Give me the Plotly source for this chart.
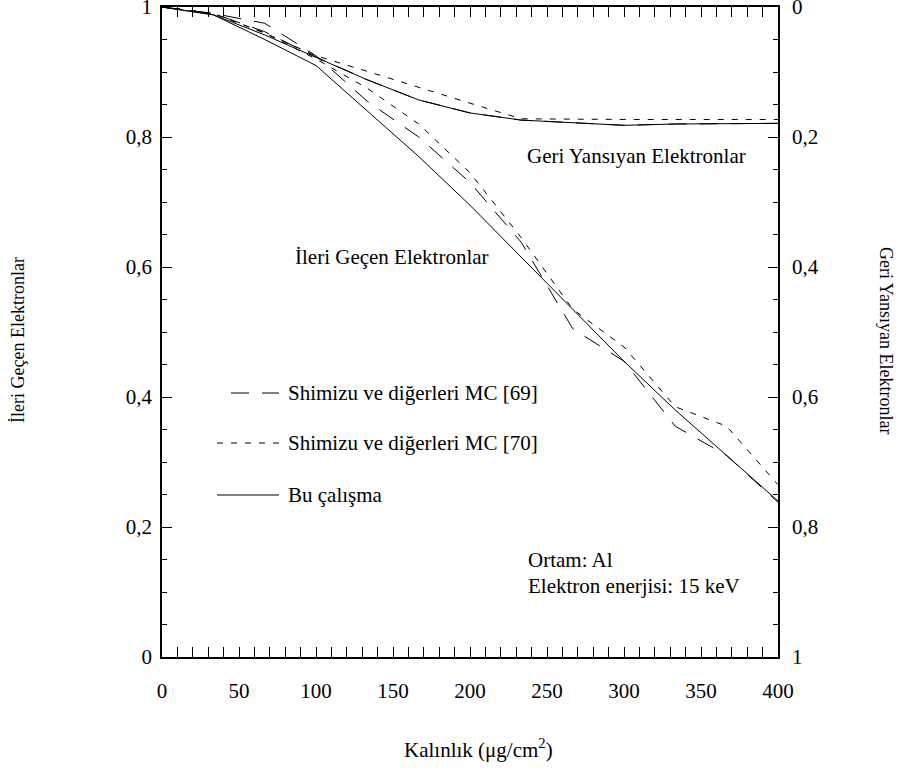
import plotly.graph_objects as go

# ---- data ----
thickness = [0, 33.3, 66.7, 100, 133.3, 166.7, 200, 233.3, 266.7, 300, 333.3, 366.7, 400]

# Transmitted electrons (left axis)
trans_this_work = [1.0, 0.988, 0.95, 0.91, 0.84, 0.77, 0.695, 0.615, 0.535, 0.455, 0.38, 0.31, 0.24]
trans_mc69 = [1.0, 0.99, 0.975, 0.925, 0.855, 0.80, 0.73, 0.638, 0.505, 0.455, 0.355, 0.31, 0.238]
trans_mc70 = [1.0, 0.99, 0.96, 0.92, 0.875, 0.82, 0.745, 0.645, 0.535, 0.477, 0.385, 0.355, 0.265]

# Back-scattered electrons (right axis, reversed)
back_this_work = [0.0, 0.012, 0.043, 0.077, 0.112, 0.143, 0.163, 0.174, 0.178, 0.182, 0.18, 0.179, 0.179]
back_mc69 = [0.0, 0.01, 0.038, 0.077, 0.112, 0.143, 0.163, 0.174, 0.178, 0.182, 0.18, 0.179, 0.179]
back_mc70 = [0.0, 0.01, 0.04, 0.075, 0.099, 0.124, 0.148, 0.172, 0.173, 0.173, 0.173, 0.173, 0.173]

series_names = ["Shimizu ve diğerleri MC [69]", "Shimizu ve diğerleri MC [70]", "Bu çalışma"]
x_ticks = [0, 50, 100, 150, 200, 250, 300, 350, 400]
y_ticks = [0, 0.2, 0.4, 0.6, 0.8, 1.0]

FONT = "Liberation Serif, Times New Roman, DejaVu Serif, serif"
LONG = "18px,13px"
SHORT = "6px,8px"
EPS = 1e-6

fig = go.Figure()

styles = [(LONG, trans_mc69, back_mc69), (SHORT, trans_mc70, back_mc70), ("solid", trans_this_work, back_this_work)]
for name, (dash, tr, bk) in zip(series_names, styles):
    fig.add_trace(go.Scatter(x=thickness, y=tr, mode="lines", name=name,
                             line=dict(color="black", width=1, dash=dash),
                             yaxis="y", showlegend=False, hoverinfo="skip"))
    fig.add_trace(go.Scatter(x=thickness, y=bk, mode="lines", name=name,
                             line=dict(color="black", width=1, dash=dash),
                             yaxis="y2", showlegend=False, hoverinfo="skip"))

axis_common = dict(showgrid=False, zeroline=False, showline=True, linecolor="black", linewidth=1.5,
                   ticks="inside", ticklen=10, tickwidth=1, tickcolor="black",
                   ticklabeloverflow="allow", automargin=False,
                   tickfont=dict(family=FONT, size=21, color="black"))

fig.update_layout(
    width=905, height=771,
    margin=dict(l=162, r=127, t=7, b=114, autoexpand=False),
    paper_bgcolor="white", plot_bgcolor="white",
    separators=",.",
    showlegend=False,
    xaxis=dict(range=[0, 400], tickvals=x_ticks, mirror="allticks",
               minor=dict(ticks="inside", ticklen=5, dtick=10, tickcolor="black", tickwidth=1),
               ticklabelstandoff=14, **axis_common),
    yaxis=dict(range=[-EPS, 1 + EPS], tickvals=y_ticks,
               minor=dict(ticks="inside", ticklen=5, dtick=0.05, tickcolor="black", tickwidth=1),
               ticklabelstandoff=4, **axis_common),
    yaxis2=dict(range=[1 + EPS, -EPS], tickvals=y_ticks, overlaying="y", side="right",
                minor=dict(ticks="inside", ticklen=5, dtick=0.05, tickcolor="black", tickwidth=1),
                ticklabelstandoff=8, **axis_common),
)


def px_to_paper_x(px):
    return (px - 162) / 616.0


def px_to_paper_y(py):
    return (657 - py) / 650.0


annos = [
    dict(text="Kalınlık (μg/cm<sup>2</sup>)", x=px_to_paper_x(478), y=px_to_paper_y(748),
         xanchor="center", yanchor="middle", size=21),
    dict(text="İleri Geçen Elektronlar", x=px_to_paper_x(18), y=px_to_paper_y(340),
         xanchor="center", yanchor="middle", size=18, angle=-90),
    dict(text="Geri Yansıyan Elektronlar", x=px_to_paper_x(886), y=px_to_paper_y(340),
         xanchor="center", yanchor="middle", size=18, angle=90),
    dict(text="Geri Yansıyan Elektronlar", x=px_to_paper_x(525), y=px_to_paper_y(156),
         xanchor="left", yanchor="middle", size=21),
    dict(text="İleri Geçen Elektronlar", x=px_to_paper_x(293), y=px_to_paper_y(257),
         xanchor="left", yanchor="middle", size=21),
    dict(text="Ortam: Al", x=px_to_paper_x(526), y=px_to_paper_y(560),
         xanchor="left", yanchor="middle", size=21),
    dict(text="Elektron enerjisi: 15 keV", x=px_to_paper_x(526), y=px_to_paper_y(586),
         xanchor="left", yanchor="middle", size=21),
]

# hand-drawn legend
legend_rows = [(393, LONG, 231), (443, SHORT, 217), (495, "solid", 217)]
for name, (py, dash, x0) in zip(series_names, legend_rows):
    fig.add_shape(type="line", xref="paper", yref="paper",
                  x0=px_to_paper_x(x0), x1=px_to_paper_x(279),
                  y0=px_to_paper_y(py), y1=px_to_paper_y(py),
                  line=dict(color="black", width=1, dash=dash))
    annos.append(dict(text=name, x=px_to_paper_x(286), y=px_to_paper_y(py),
                      xanchor="left", yanchor="middle", size=21))

for a in annos:
    fig.add_annotation(text=a["text"], x=a["x"], y=a["y"], xref="paper", yref="paper",
                       xanchor=a["xanchor"], yanchor=a["yanchor"], showarrow=False,
                       textangle=a.get("angle", 0),
                       font=dict(family=FONT, size=a["size"], color="black"))

fig.write_html("out.html")
